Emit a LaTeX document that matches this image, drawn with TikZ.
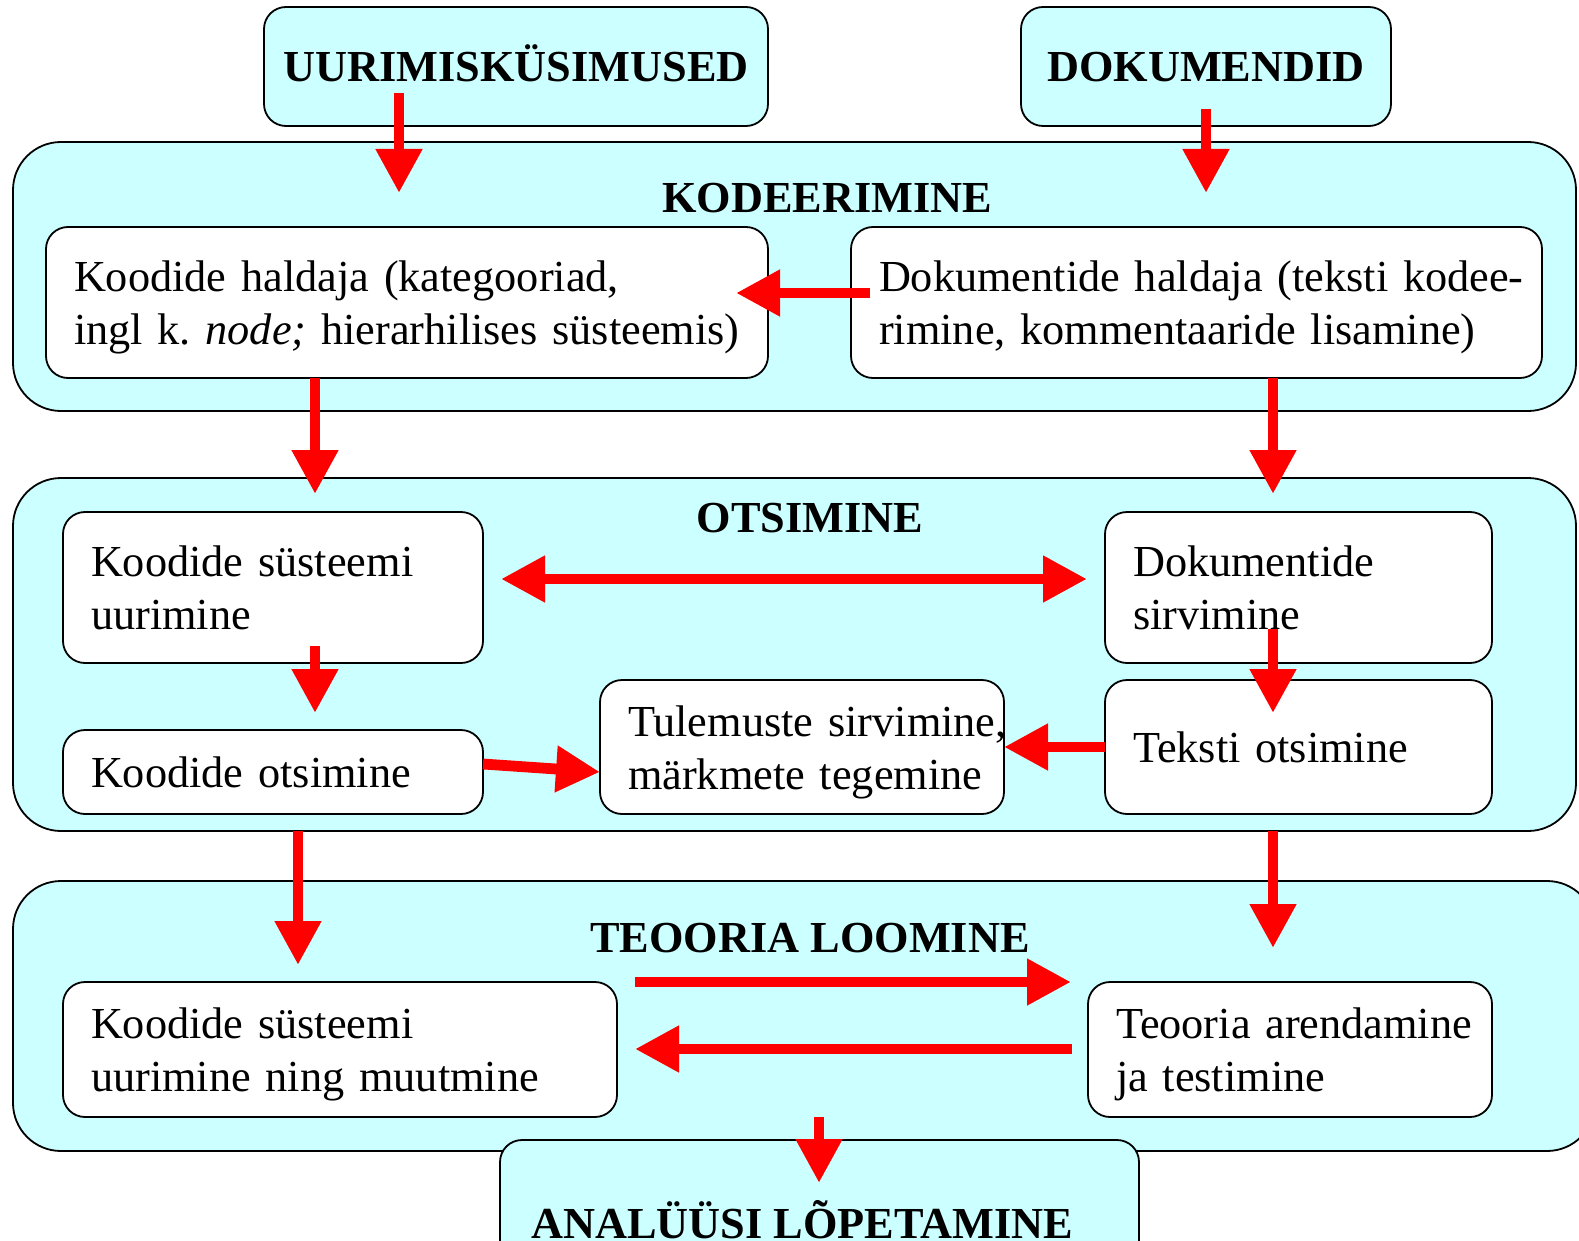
\documentclass[tikz,border=0pt]{standalone}
\usepackage{fontspec}
\setmainfont{Liberation Serif}
\usetikzlibrary{arrows.meta}
\definecolor{panelcyan}{RGB}{204,255,255}
\definecolor{flowred}{RGB}{255,0,0}
\newcommand\bodyfont{\fontsize{22.15pt}{26.5pt}\selectfont\frenchspacing}
\newcommand\headfont{\fontsize{22.15pt}{26.5pt}\selectfont\bfseries}
% struts that fix the top of the first line and the bottom of the last line
\newcommand\topstrut{\rule{0pt}{22pt}}
\newcommand\botstrut{\rule[-6.25pt]{0pt}{6.25pt}}

\begin{document}
\begin{tikzpicture}[x=0.5pt,y=-0.5pt,
  panel/.style={draw=black,line width=0.9pt,fill=panelcyan,rounded corners=24pt,inner sep=0pt},
  headbox/.style={draw=black,line width=0.9pt,fill=panelcyan,rounded corners=11pt,inner sep=0pt,font=\headfont,text height=15pt,text depth=0pt},
  card/.style={draw=black,line width=0.9pt,fill=white,rounded corners=11pt,inner xsep=14pt,inner ysep=0pt,align=left,font=\bodyfont},
  title/.style={inner sep=0pt,font=\headfont,text height=15pt,text depth=0pt},
  flow/.style={draw=flowred,line width=5.4pt,-{Triangle[length=22pt,width=22pt]}},
  twoway/.style={draw=flowred,line width=5.4pt,{Triangle[length=22pt,width=22pt]}-{Triangle[length=22pt,width=22pt]}}
]
\clip (0,0) rectangle (1579,1241);

% inputs
\node[headbox,minimum width=252pt,minimum height=59.5pt] (uq) at (516,66.5) {UURIMISKÜSIMUSED};
\node[headbox,minimum width=185pt,minimum height=59.5pt] (dok) at (1206,66.5) {DOKUMENDID};

% coding stage
\node[panel,minimum width=781.5pt,minimum height=134.5pt] (kod) at (794.5,276.5) {};
\node[title] (kodt) at (827,198) {KODEERIMINE};
\node[card,text width=333pt,minimum height=75.5pt] (kh) at (407,302.5)
  {\topstrut\mbox{Koodide haldaja (kategooriad,}\\\mbox{ingl k. \textit{node;} hierarhilises süsteemis)}\botstrut};
\node[card,text width=317.5pt,minimum height=75.5pt] (dh) at (1196.5,302.5)
  {\topstrut\mbox{Dokumentide haldaja (teksti kodee-}\\\mbox{rimine, kommentaaride lisamine)}\botstrut};

% searching stage
\node[panel,minimum width=781.5pt,minimum height=176.5pt] (ots) at (794.5,654.5) {};
\node[title] (otst) at (810,517) {OTSIMINE};
\node[card,text width=182pt,minimum height=75.5pt] (ksu) at (273,587.5)
  {\topstrut\mbox{Koodide süsteemi}\\\mbox{uurimine}\botstrut};
\node[card,text width=165.5pt,minimum height=75.5pt] (ds) at (1298.5,587.5)
  {\topstrut\mbox{Dokumentide}\\\mbox{sirvimine}\botstrut};
\node[card,text width=182pt,minimum height=42pt] (ko) at (273,772)
  {\topstrut\mbox{Koodide otsimine}\botstrut};
\node[card,text width=174pt,minimum height=67pt] (tul) at (802,747)
  {\topstrut\mbox{Tulemuste sirvimine,}\\\mbox{märkmete tegemine}\botstrut};
\node[card,text width=165.5pt,minimum height=67pt] (to) at (1298.5,747)
  {\topstrut\mbox{Teksti otsimine}\botstrut};

% theory building stage
\node[panel,minimum width=791pt,minimum height=135pt] (teo) at (804,1016) {};
\node[title] (teot) at (810,937) {TEOORIA LOOMINE};
\node[card,text width=249pt,minimum height=67.5pt] (ksm) at (340,1049.5)
  {\topstrut\mbox{Koodide süsteemi}\\\mbox{uurimine ning muutmine}\botstrut};
\node[card,text width=174pt,minimum height=67.5pt] (ta) at (1290,1049.5)
  {\topstrut\mbox{Teooria arendamine}\\\mbox{ja testimine}\botstrut};

% final stage
\node[headbox,minimum width=319.5pt,minimum height=65pt] (ana) at (819.5,1205) {};
\node[title] (anat) at (802,1223) {ANALÜÜSI LÕPETAMINE};

% connector ends
\coordinate (uq-out) at (399,93);   \coordinate (kod-in-l) at (399,193);
\coordinate (dok-out) at (1206,109); \coordinate (kod-in-r) at (1206,193);
\coordinate (dh-w) at (870,293);    \coordinate (kh-e) at (736,293);
\coordinate (kh-s) at (315,378);    \coordinate (ots-in-l) at (315,494);
\coordinate (dh-s) at (1273,378);   \coordinate (ots-in-r) at (1273,494);
\coordinate (ksu-e) at (501,579);   \coordinate (ds-w) at (1087,579);
\coordinate (ksu-s) at (315,646);   \coordinate (ko-n) at (315,713);
\coordinate (ds-s) at (1273,629);   \coordinate (to-n) at (1273,713);
\coordinate (ko-e) at (483,764);    \coordinate (tul-w) at (600,772);
\coordinate (to-w) at (1105,747);   \coordinate (tul-e) at (1004,747);
\coordinate (ots-out-l) at (298,831); \coordinate (teo-in-l) at (298,965);
\coordinate (ots-out-r) at (1273,831); \coordinate (teo-in-r) at (1273,948);
\coordinate (ksm-e-hi) at (635,982); \coordinate (ta-w-hi) at (1071,982);
\coordinate (ta-w-lo) at (1072,1049); \coordinate (ksm-e-lo) at (635,1049);
\coordinate (teo-out) at (819,1117); \coordinate (ana-in) at (819,1183);

% connectors
\draw[flow] (uq-out) -- (kod-in-l);
\draw[flow] (dok-out) -- (kod-in-r);
\draw[flow] (dh-w) -- (kh-e);
\draw[flow] (kh-s) -- (ots-in-l);
\draw[flow] (dh-s) -- (ots-in-r);
\draw[twoway] (ksu-e) -- (ds-w);
\draw[flow] (ksu-s) -- (ko-n);
\draw[flow] (ds-s) -- (to-n);
\draw[flow] (ko-e) -- (tul-w);
\draw[flow] (to-w) -- (tul-e);
\draw[flow] (ots-out-l) -- (teo-in-l);
\draw[flow] (ots-out-r) -- (teo-in-r);
\draw[flow] (ksm-e-hi) -- (ta-w-hi);
\draw[flow] (ta-w-lo) -- (ksm-e-lo);
\draw[flow] (teo-out) -- (ana-in);
\end{tikzpicture}
\end{document}
